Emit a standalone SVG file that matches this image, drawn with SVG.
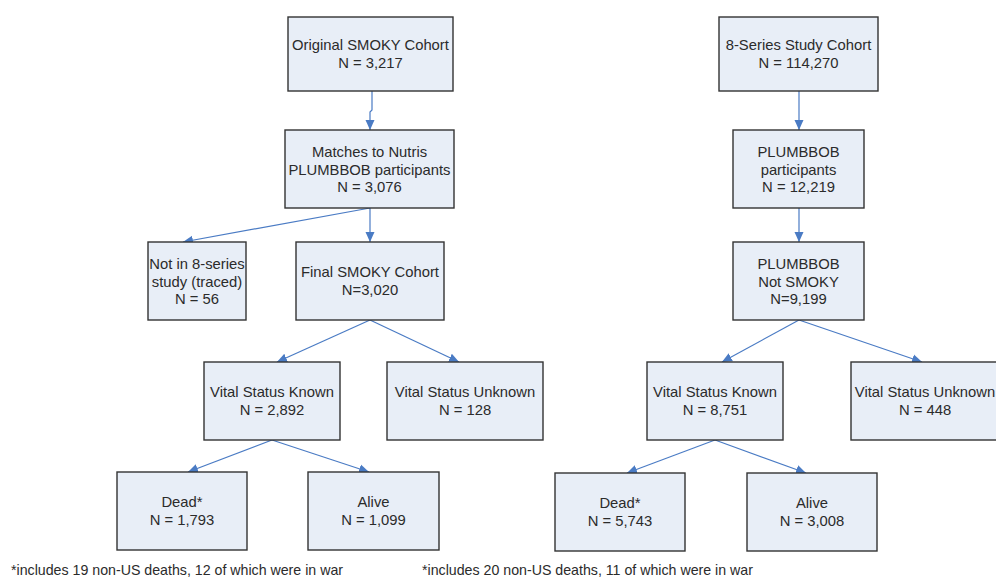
<svg xmlns="http://www.w3.org/2000/svg" width="996" height="577" viewBox="0 0 996 577">
<style>
.box{fill:#e8eef7;stroke:#333;stroke-width:1.4}
.t{font-family:"Liberation Sans",Arial,sans-serif;font-size:14.8px;fill:#2b2b2b;text-anchor:middle}
.f{font-family:"Liberation Sans",Arial,sans-serif;font-size:14.2px;fill:#2b2b2b}
.c{fill:none;stroke:#4a7bc4;stroke-width:1.2;marker-end:url(#ah)}
</style>
<defs>
<marker id="ah" markerWidth="10" markerHeight="10" viewBox="0 0 10 10" refX="10" refY="5" orient="auto" markerUnits="userSpaceOnUse">
<path d="M0,0.5 L10,5 L0,9.5 Z" fill="#4a7bc4"/>
</marker>
</defs>
<rect width="996" height="577" fill="#fff"/>
<g id="connectors">
<polyline class="c" points="372,91 372,110 370,112 370,130"/>
<line class="c" x1="370" y1="208" x2="370" y2="242"/>
<line class="c" x1="370" y1="208" x2="183" y2="242"/>
<line class="c" x1="370" y1="320" x2="277" y2="362"/>
<line class="c" x1="370" y1="320" x2="459" y2="362"/>
<line class="c" x1="272" y1="440" x2="188" y2="472"/>
<line class="c" x1="272" y1="440" x2="369" y2="472"/>
<line class="c" x1="799" y1="91" x2="799" y2="130"/>
<line class="c" x1="799" y1="208" x2="799" y2="242"/>
<line class="c" x1="799" y1="320" x2="722" y2="362"/>
<line class="c" x1="799" y1="320" x2="922" y2="362"/>
<line class="c" x1="715" y1="440" x2="627" y2="473"/>
<line class="c" x1="715" y1="440" x2="806" y2="473"/>
</g>
<g id="n_orig"><rect class="box" x="288" y="17" width="165" height="74"/>
<text class="t" x="370.5" y="50">Original SMOKY Cohort</text><text class="t" x="370.5" y="68">N = 3,217</text></g>
<g id="n_matches"><rect class="box" x="285" y="130" width="169" height="78"/>
<text class="t" x="369.5" y="157">Matches to Nutris</text><text class="t" x="369.5" y="174.5">PLUMBBOB participants</text><text class="t" x="369.5" y="192">N = 3,076</text></g>
<g id="n_not8"><rect class="box" x="148" y="242" width="98" height="78"/>
<text class="t" x="197" y="269">Not in 8-series</text><text class="t" x="197" y="286.5">study (traced)</text><text class="t" x="197" y="304">N = 56</text></g>
<g id="n_final"><rect class="box" x="296" y="242" width="148" height="78"/>
<text class="t" x="370" y="277">Final SMOKY Cohort</text><text class="t" x="370" y="295">N=3,020</text></g>
<g id="n_vsk1"><rect class="box" x="204" y="362" width="136" height="78"/>
<text class="t" x="272" y="397">Vital Status Known</text><text class="t" x="272" y="415">N = 2,892</text></g>
<g id="n_vsu1"><rect class="box" x="387" y="362" width="156" height="78"/>
<text class="t" x="465" y="397">Vital Status Unknown</text><text class="t" x="465" y="415">N = 128</text></g>
<g id="n_dead1"><rect class="box" x="117" y="472" width="130" height="78"/>
<text class="t" x="182" y="507">Dead*</text><text class="t" x="182" y="525">N = 1,793</text></g>
<g id="n_alive1"><rect class="box" x="308" y="472" width="131" height="78"/>
<text class="t" x="373.5" y="507">Alive</text><text class="t" x="373.5" y="525">N = 1,099</text></g>
<g id="n_8series"><rect class="box" x="719" y="17" width="159" height="74"/>
<text class="t" x="798.5" y="50">8-Series Study Cohort</text><text class="t" x="798.5" y="68">N = 114,270</text></g>
<g id="n_plumb"><rect class="box" x="733" y="130" width="131" height="78"/>
<text class="t" x="798.5" y="157">PLUMBBOB</text><text class="t" x="798.5" y="174.5">participants</text><text class="t" x="798.5" y="192">N = 12,219</text></g>
<g id="n_notsmoky"><rect class="box" x="733" y="242" width="131" height="78"/>
<text class="t" x="798.5" y="269">PLUMBBOB</text><text class="t" x="798.5" y="286.5">Not SMOKY</text><text class="t" x="798.5" y="304">N=9,199</text></g>
<g id="n_vsk2"><rect class="box" x="647" y="362" width="136" height="78"/>
<text class="t" x="715" y="397">Vital Status Known</text><text class="t" x="715" y="415">N = 8,751</text></g>
<g id="n_vsu2"><rect class="box" x="851" y="362" width="156" height="78"/>
<text class="t" x="925" y="397">Vital Status Unknown</text><text class="t" x="925" y="415">N = 448</text></g>
<g id="n_dead2"><rect class="box" x="555" y="473" width="130" height="78"/>
<text class="t" x="620" y="508">Dead*</text><text class="t" x="620" y="526">N = 5,743</text></g>
<g id="n_alive2"><rect class="box" x="747" y="473" width="130" height="78"/>
<text class="t" x="812" y="508">Alive</text><text class="t" x="812" y="526">N = 3,008</text></g>
<text class="f" x="11" y="575">*includes 19 non-US deaths, 12 of which were in war</text>
<text class="f" x="422" y="575">*includes 20 non-US deaths, 11 of which were in war</text>
</svg>
